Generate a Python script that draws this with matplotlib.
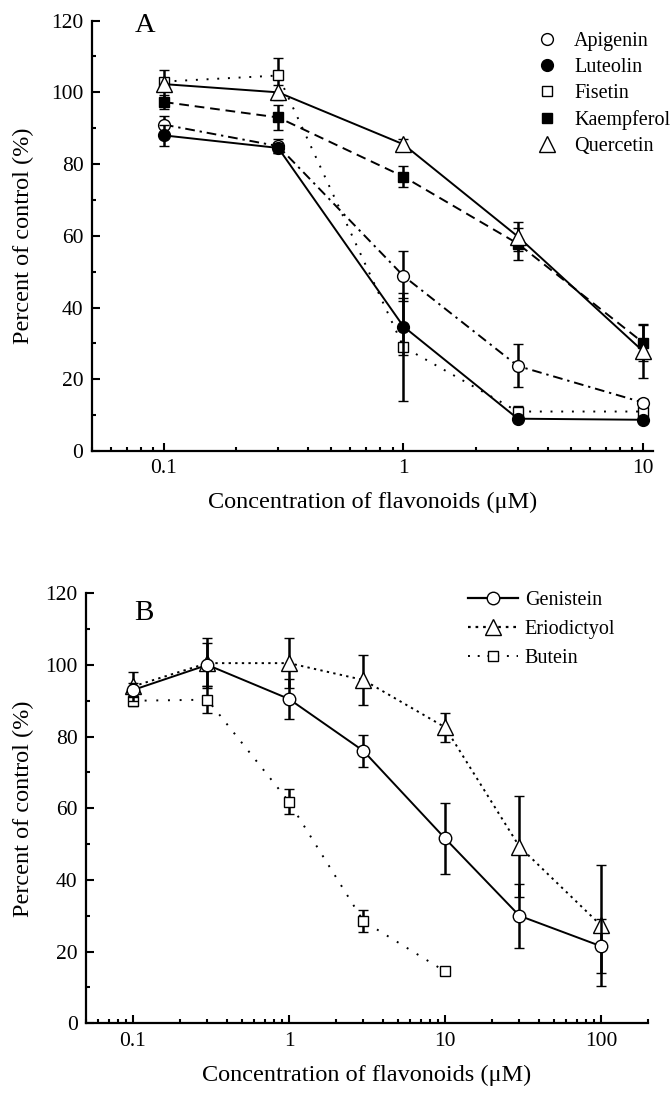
import matplotlib
matplotlib.use("Agg")
import matplotlib.pyplot as plt
from matplotlib.lines import Line2D
from matplotlib.ticker import LogLocator, FixedLocator, NullFormatter, MultipleLocator
import numpy as np

plt.rcParams['font.family'] = ['Liberation Serif', 'DejaVu Serif']
plt.rcParams['mathtext.fontset'] = 'stix'

# ---------------- Panel A data ----------------
conc_a = [0.1, 0.3, 1, 3, 10]
apigenin = [91, 85, 48.8, 23.7, 13.5]
apigenin_err = [2.5, 2, 7, 6, 1]
luteolin = [88, 84.5, 34.7, 9, 8.7]
luteolin_err = [3, 1.5, 8, 0.5, 0.5]
fisetin = [103, 104.7, 29, 11, 11]
fisetin_err = [1, 5, 15, 1.5, 1.5]
kaempferol = [97.3, 93, 76.5, 57.8, 30.2]
kaempferol_err = [2, 3.5, 3, 4.5, 5]
quercetin = [102.3, 100, 85.5, 59.8, 27.8]
quercetin_err = [3.8, 2, 1.5, 4, 7.5]

# ---------------- Panel B data ----------------
conc_b = [0.1, 0.3, 1, 3, 10, 30, 100]
genistein = [93, 100, 90.5, 76, 51.6, 30, 21.5]
genistein_err = [2, 6, 5.5, 4.5, 10, 9, 7.5]
eriodictyol = [94, 100.5, 100.5, 95.8, 82.6, 49.3, 27.3]
eriodictyol_err = [4, 7, 7, 7, 4, 14, 17]
conc_butein = [0.1, 0.3, 1, 3, 10]
butein = [90, 90.3, 61.8, 28.5, 14.5]
butein_err = [1.5, 3.8, 3.5, 3, 1]

ylabel = "Percent of control (%)"
xlabel = "Concentration of flavonoids (\u03bcM)"

fig = plt.figure(figsize=(6.72, 10.97), dpi=100)
axA = fig.add_axes([0.1365, 0.5889, 0.8353, 0.3923])
axB = fig.add_axes([0.128, 0.0672, 0.8363, 0.3920])

TICK_FS = 15.5
LAB_FS = 17.5
LEG_FS = 14.5


def style_axis(ax, xmin, xmax, xticks, xticklabels, ylabelpad):
    ax.set_xscale('log')
    ax.set_xlim(xmin, xmax)
    ax.set_ylim(0, 120)
    for s in ['top', 'right']:
        ax.spines[s].set_visible(False)
    for s in ['left', 'bottom']:
        ax.spines[s].set_linewidth(1.6)
    ax.xaxis.set_major_locator(FixedLocator(xticks))
    ax.set_xticklabels(xticklabels)
    ax.xaxis.set_minor_locator(LogLocator(base=10, subs=np.arange(2, 10), numticks=20))
    ax.xaxis.set_minor_formatter(NullFormatter())
    ax.yaxis.set_major_locator(MultipleLocator(20))
    ax.yaxis.set_minor_locator(MultipleLocator(10))
    ax.tick_params(which='both', direction='in', width=1.5, labelsize=TICK_FS)
    ax.tick_params(which='major', length=5.5, pad=6)
    ax.tick_params(which='minor', length=3)
    ax.set_ylabel(ylabel, fontsize=LAB_FS, labelpad=ylabelpad)
    ax.set_xlabel(xlabel, fontsize=LAB_FS, labelpad=10)


def series(ax, x, y, e, marker, mfc, ls, ms, dashes=None, label=None, z=3):
    kw = dict(color='black', marker=marker, markerfacecolor=mfc, markeredgecolor='black',
              markersize=ms, markeredgewidth=1.0, linewidth=1.4, label=label,
              ecolor='black', elinewidth=1.8, capsize=3.5, capthick=1.8, zorder=z)
    if dashes is not None:
        kw['dashes'] = dashes
    else:
        kw['linestyle'] = ls
    ax.errorbar(x, y, yerr=e, **kw)


# Panel A
style_axis(axA, 0.05, 11, [0.1, 1, 10], ['0.1', '1', '10'], 12)
series(axA, conc_a, fisetin, fisetin_err, 's', 'white', None, 7, dashes=(1, 4.5), label='Fisetin', z=3)
series(axA, conc_a, kaempferol, kaempferol_err, 's', 'black', None, 7, dashes=(5, 3), label='Kaempferol', z=3)
series(axA, conc_a, apigenin, apigenin_err, 'o', 'white', None, 8.5, dashes=(5, 2.5, 1.2, 2.5), label='Apigenin', z=4)
series(axA, conc_a, luteolin, luteolin_err, 'o', 'black', '-', 8.5, label='Luteolin', z=5)
series(axA, conc_a, quercetin, quercetin_err, '^', 'white', '-', 11, label='Quercetin', z=4)

handlesA = [
    Line2D([], [], linestyle='none', marker='o', markersize=8.5, markerfacecolor='white', markeredgecolor='black'),
    Line2D([], [], linestyle='none', marker='o', markersize=8.5, markerfacecolor='black', markeredgecolor='black'),
    Line2D([], [], linestyle='none', marker='s', markersize=7, markerfacecolor='white', markeredgecolor='black'),
    Line2D([], [], linestyle='none', marker='s', markersize=7, markerfacecolor='black', markeredgecolor='black'),
    Line2D([], [], linestyle='none', marker='^', markersize=11, markerfacecolor='white', markeredgecolor='black'),
]
labelsA = ['Apigenin', 'Luteolin', 'Fisetin', 'Kaempferol', 'Quercetin']
axA.legend(handlesA, labelsA, loc='upper left', bbox_to_anchor=(0.779, 0.992), frameon=False,
           fontsize=LEG_FS, handlelength=1.0, handletextpad=0.84, labelspacing=0.34,
           borderaxespad=0.2, borderpad=0.2)
axA.text(0.077, 1.017, 'A', transform=axA.transAxes, fontsize=20.5, ha='left', va='top')

# Panel B
style_axis(axB, 0.05, 200, [0.1, 1, 10, 100], ['0.1', '1', '10', '100'], 8)
series(axB, conc_butein, butein, butein_err, 's', 'white', None, 7, dashes=(1, 5), label='Butein', z=3)
series(axB, conc_b, eriodictyol, eriodictyol_err, '^', 'white', None, 11, dashes=(1.2, 2.2), label='Eriodictyol', z=4)
series(axB, conc_b, genistein, genistein_err, 'o', 'white', '-', 9, label='Genistein', z=5)

handlesB = [
    Line2D([], [], color='black', linewidth=1.6, linestyle='-', marker='o', markersize=9, markerfacecolor='white'),
    Line2D([], [], color='black', linewidth=1.6, dashes=(1.2, 2.2), marker='^', markersize=11, markerfacecolor='white'),
    Line2D([], [], color='black', linewidth=1.4, dashes=(1, 4), marker='s', markersize=7, markerfacecolor='white'),
]
labelsB = ['Genistein', 'Eriodictyol', 'Butein']
axB.legend(handlesB, labelsB, loc='upper left', bbox_to_anchor=(0.665, 1.0247), frameon=False,
           fontsize=LEG_FS, handlelength=2.48, handletextpad=0.35, labelspacing=0.5,
           borderaxespad=0.2, borderpad=0.2)
axB.text(0.0854, 0.984, 'B', transform=axB.transAxes, fontsize=21, ha='left', va='top')

fig.savefig('out.png', dpi=100)
